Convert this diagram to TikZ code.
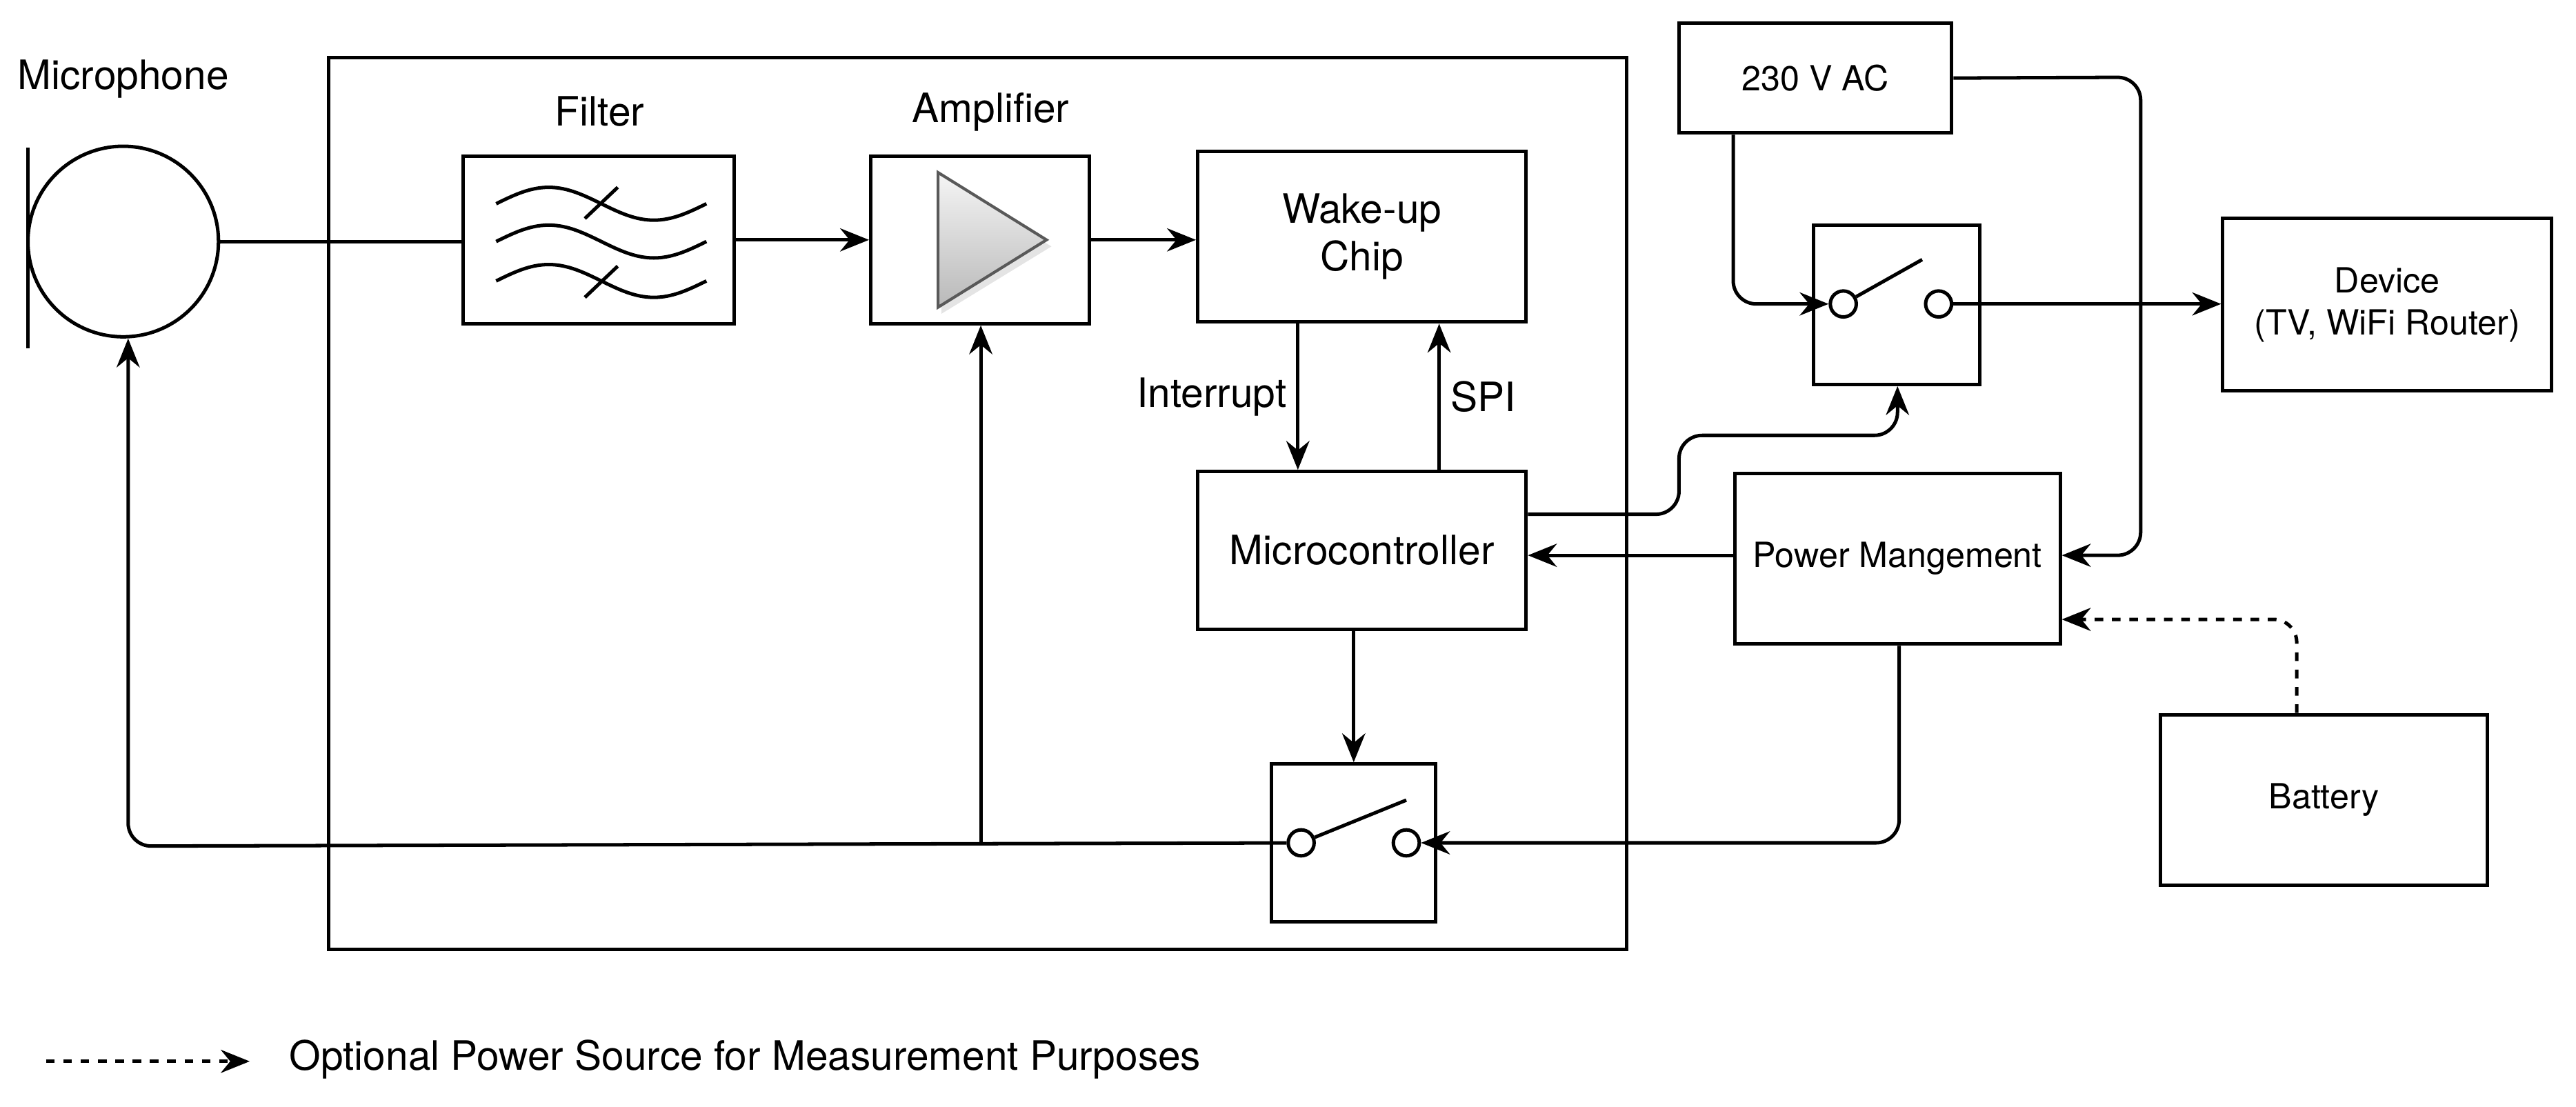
\documentclass[tikz,border=0pt]{standalone}
\usepackage{fontspec}
\setmainfont{TeX Gyre Heros}
\usetikzlibrary{arrows.meta, positioning}
\tikzset{
  block/.style={draw, line width=1.2pt, rectangle, inner sep=0pt, align=center},
  big/.style={font=\fontsize{14}{16.5}\selectfont},
  small/.style={font=\fontsize{12}{14.5}\selectfont},
  contact/.style={draw, line width=1.2pt, circle, fill=white, inner sep=0pt, minimum size=9pt},
  wire/.style={line width=1.2pt, rounded corners=8pt},
}
\begin{document}
\begin{tikzpicture}[x=0.02cm, y=-0.02cm, >={Stealth[length=10pt, width=8pt]}, thick/.style={line width=1.2pt}]
\useasboundingbox (0,0) rectangle (1568,673.4);
        % frame
        \node[block, minimum width=15.8cm, minimum height=10.86cm] (board) at (595,306.5) {};
        % microphone
        \node[big] (lmic) at (75,48) {Microphone};
        \node[draw, thick, circle, minimum size=2.32cm, inner sep=0pt] (mic) at (75,147) {};
        \draw[thick] (17,90) -- (17,212);
        % blocks
        \node[block, minimum width=3.3cm, minimum height=2.04cm] (filter) at (364.5,146) {};
        \node[big] (lfilter) at (365,68) {Filter};
        \node[block, minimum width=2.66cm, minimum height=2.04cm] (amp) at (596.5,146) {};
        \node[big] (lamp) at (603,68) {Amplifier};
        \node[block, big, minimum width=4cm, minimum height=2.08cm] (wake) at (829,144) {Wake-up\\Chip};
        \node[block, big, minimum width=4cm, minimum height=1.92cm] (mcu) at (829,335) {Microcontroller};
        \node[block, minimum width=2cm, minimum height=1.92cm] (swlo) at (824,513) {};
        \node[block, small, minimum width=3.32cm, minimum height=1.34cm] (ac) at (1105,47.5) {230 V AC};
        \node[block, minimum width=2.02cm, minimum height=1.94cm] (swhi) at (1154.5,185.5) {};
        \node[block, small, minimum width=4cm, minimum height=2.1cm] (dev) at (1453,185.5) {Device\\(TV, WiFi Router)};
        \node[block, small, minimum width=3.96cm, minimum height=2.08cm] (pm) at (1155,340) {Power Mangement};
        \node[block, small, minimum width=3.98cm, minimum height=2.08cm] (bat) at (1414.5,487) {Battery};
        % filter waves
        \foreach \yy in {124,147,171}
          \draw[thick] (302,\yy) sin (334,\yy-10) cos (366,\yy) sin (398,\yy+10) cos (430,\yy);
        \draw[thick] (356,133) -- (376,114);
        \draw[thick] (356,181) -- (376,162);
        % amplifier symbol
        \fill[gray!35, opacity=0.6] (573,109) -- (640,150) -- (573,191) -- cycle;
        \draw[line width=1pt, draw=gray!70!black, top color=gray!8, bottom color=gray!55] (571,105) -- (637,146) -- (571,187) -- cycle;
        % switches
        \node[contact] (slo1) at (792,513) {};
        \node[contact] (slo2) at (856,513) {};
        \draw[thick] (slo1) -- (856,487);
        \node[contact] (shi1) at (1122,185) {};
        \node[contact] (shi2) at (1180,185) {};
        \draw[thick] (shi1) -- (1170,158);
        \coordinate (tap) at (597,513);
        % connections
        \draw[thick] (mic.east) -- (filter.west |- mic.east);
        \draw[thick, ->] (filter.east) -- (amp.west);
        \draw[thick, ->] (amp.east) -- (wake.west |- amp.east);
        \draw[thick, ->] (wake.south -| 790,0) -- node[left, big] {Interrupt} (mcu.north -| 790,0);
        \draw[thick, ->] (mcu.north -| 876,0) -- node[right, big] {SPI} (wake.south -| 876,0);
        \draw[thick, ->] (mcu.south -| swlo.north) -- (swlo.north);
        \draw[wire, ->] (slo1) -- (78,515) -- (mic.south -| 78,0);
        \draw[thick, ->] (tap) -- (amp.south -| tap);
        \draw[wire, ->] (pm.south -| 1156,0) -- (1156,513) -- (slo2);
        \draw[thick, ->] (pm.west |- 0,338) -- (mcu.east |- 0,338);
        \draw[wire, ->] (mcu.east |- 0,313) -- (1022,313) -- (1022,265) -- (1155,265) -- (swhi.south -| 1155,0);
        \draw[wire, ->] (ac.south -| 1055,0) -- (1055,185) -- (shi1);
        \draw[wire, ->] (ac.east) -- (1303,47) -- (1303,338) -- (pm.east |- 0,338);
        \draw[thick, ->] (shi2) -- (dev.west |- shi2);
        \draw[wire, dashed, ->] (bat.north -| 1398,0) -- (1398,377) -- (pm.east |- 0,377);
        % legend
        \coordinate (ls) at (28,646);
        \coordinate (le) at (152,646);
        \draw[thick, dashed, ->] (ls) -- (le);
        \node[big, anchor=west] (legend) at (170,645) {Optional Power Source for Measurement Purposes};
\end{tikzpicture}
\end{document}
